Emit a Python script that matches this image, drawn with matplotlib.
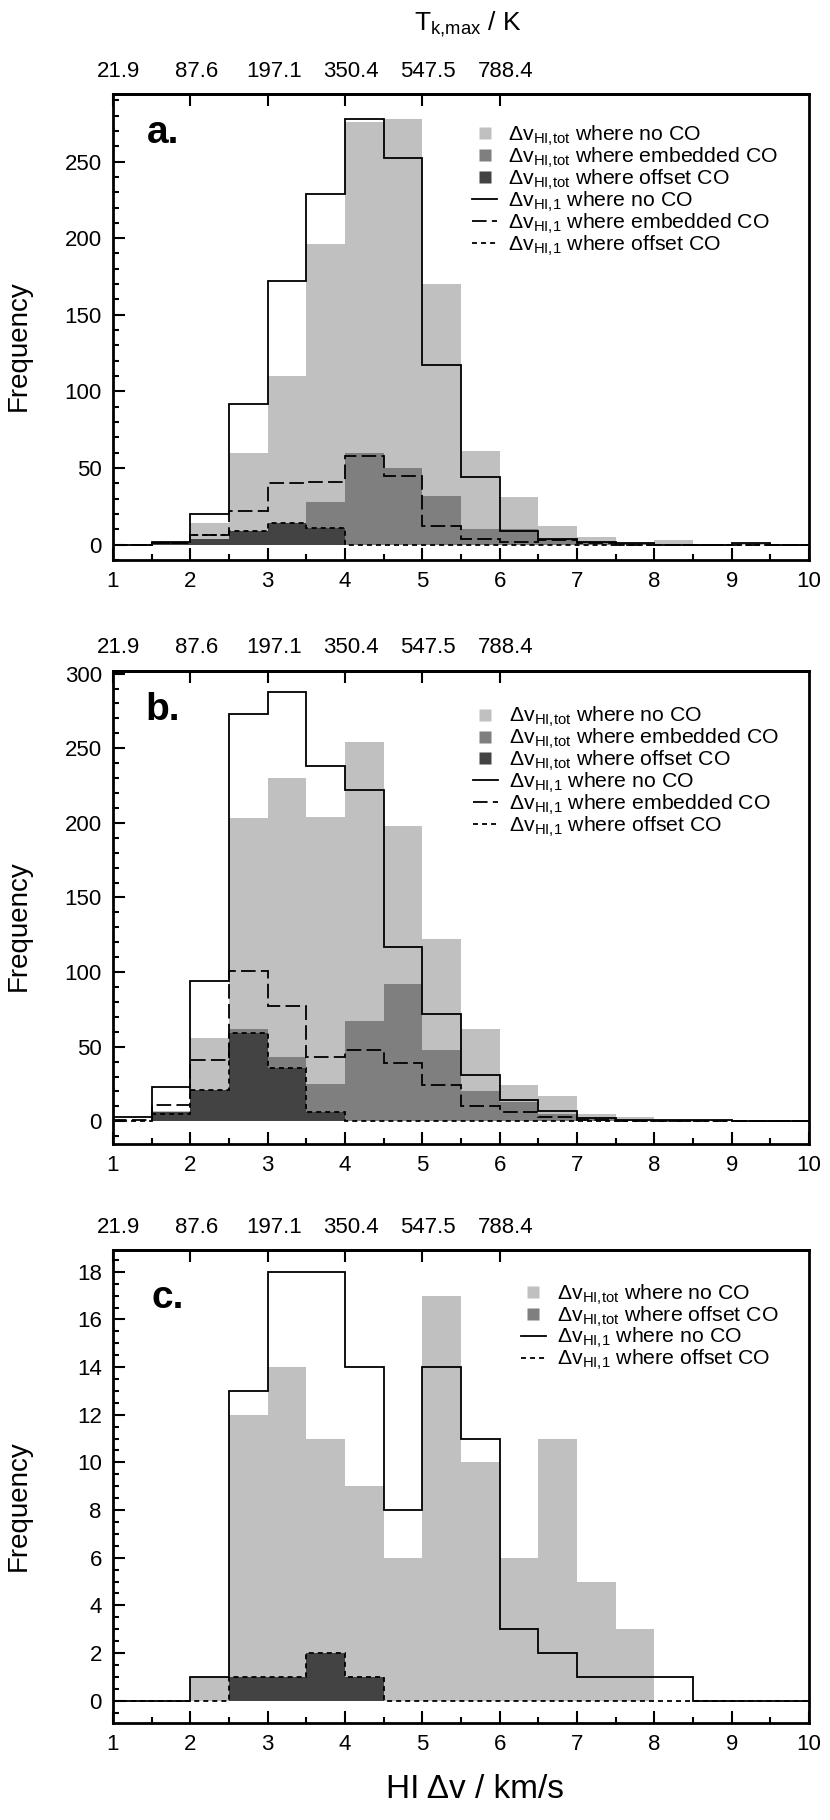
import numpy as np
import matplotlib
matplotlib.use("Agg")
import matplotlib.pyplot as plt
import matplotlib.transforms as mtransforms
from matplotlib.lines import Line2D
from matplotlib.ticker import MultipleLocator

plt.rcParams["font.family"] = ["Liberation Sans", "DejaVu Sans"]
plt.rcParams["mathtext.fontset"] = "custom"
plt.rcParams["mathtext.rm"] = "Liberation Sans"
plt.rcParams["mathtext.it"] = "Liberation Sans:italic"
plt.rcParams["mathtext.bf"] = "Liberation Sans:bold"
plt.rcParams["lines.scale_dashes"] = False

# HI line width bins (km/s)
bin_edges = [1.0, 1.5, 2.0, 2.5, 3.0, 3.5, 4.0, 4.5, 5.0, 5.5, 6.0, 6.5, 7.0, 7.5, 8.0, 8.5, 9.0, 9.5, 10.0]

# top axis: T_k,max for dv = 1..6 km/s
tk_ticks = [1, 2, 3, 4, 5, 6]
tk_labels = ["21.9", "87.6", "197.1", "350.4", "547.5", "788.4"]

# panel a
a_tot_noco = [0, 1, 14, 60, 110, 196, 276, 278, 170, 61, 31, 12, 5, 1, 3, 0, 1, 0]
a_tot_emb = [0, 0, 2, 6, 8, 28, 60, 50, 32, 10, 10, 4, 2, 1, 0, 0, 0, 0]
a_tot_off = [0, 1, 4, 9, 14, 11, 0, 0, 0, 0, 0, 0, 0, 0, 0, 0, 0, 0]
a_one_noco = [0, 2, 20, 92, 172, 229, 278, 252, 117, 44, 9, 4, 2, 1, 0, 0, 1, 0]
a_one_emb = [0, 1, 6, 22, 40, 41, 58, 45, 12, 4, 2, 3, 1, 0, 0, 0, 0, 0]
a_one_off = [0, 1, 6, 9, 14, 11, 0, 0, 0, 0, 0, 0, 0, 0, 0, 0, 0, 0]

# panel b
b_tot_noco = [0, 7, 56, 203, 230, 204, 254, 198, 122, 62, 24, 17, 5, 3, 1, 1, 0, 0]
b_tot_emb = [0, 3, 15, 62, 43, 25, 67, 92, 48, 20, 13, 5, 2, 1, 0, 0, 0, 0]
b_tot_off = [0, 6, 21, 59, 36, 6, 0, 0, 0, 0, 0, 0, 0, 0, 0, 0, 0, 0]
b_one_noco = [3, 23, 94, 273, 288, 238, 222, 117, 72, 31, 14, 7, 2, 1, 1, 1, 0, 0]
b_one_emb = [1, 11, 41, 101, 77, 43, 48, 39, 24, 10, 6, 3, 1, 0, 0, 0, 0, 0]
b_one_off = [0, 5, 21, 59, 36, 6, 0, 0, 0, 0, 0, 0, 0, 0, 0, 0, 0, 0]

# panel c
c_tot_noco = [0, 0, 1, 12, 14, 11, 9, 6, 17, 10, 6, 11, 5, 3, 0, 0, 0, 0]
c_tot_off = [0, 0, 0, 1, 1, 2, 1, 0, 0, 0, 0, 0, 0, 0, 0, 0, 0, 0]
c_one_noco = [0, 0, 1, 13, 18, 18, 14, 8, 14, 11, 3, 2, 1, 1, 1, 0, 0, 0]
c_one_off = [0, 0, 0, 1, 1, 2, 1, 0, 0, 0, 0, 0, 0, 0, 0, 0, 0, 0]

light = "#c0c0c0"
mid = "#7f7f7f"
dark = "#434343"
long_dash = (0, (10.5, 3.8))
short_dash = (0, (3.6, 2.9))
lw = 1.3

lab_tot = r"Δv$_{\mathrm{HI{,}tot}}$"
lab_one = r"Δv$_{\mathrm{HI{,}1}}$"


def square(color):
    return Line2D([], [], ls="none", marker="s", ms=8.6, mfc=color, mec="none")


def line(style):
    return Line2D([], [], color="k", lw=lw, ls=style)


def setup_axes(ax, ylim, major, minor, letter, letter_xy):
    ax.set_xlim(1, 10)
    ax.set_ylim(*ylim)
    ax.xaxis.set_major_locator(MultipleLocator(1))
    ax.xaxis.set_minor_locator(MultipleLocator(0.5))
    ax.yaxis.set_major_locator(MultipleLocator(major))
    ax.yaxis.set_minor_locator(MultipleLocator(minor))
    ax.tick_params(which="both", direction="in", top=False, right=False, width=1.5, labelsize=16)
    ax.tick_params(which="major", length=8.6)
    ax.tick_params(which="minor", length=4.3)
    ax.tick_params(axis="y", pad=8)
    ax.tick_params(axis="x", pad=8)
    for sp in ax.spines.values():
        sp.set_linewidth(2.0)
    ax.set_ylabel("Frequency", fontsize=20)
    ax.yaxis.set_label_coords(-0.117, 0.46)
    ax.text(letter_xy[0], letter_xy[1], letter, transform=ax.transAxes, fontsize=28,
            fontweight="bold", va="baseline", ha="left")

    top = ax.secondary_xaxis("top")
    top.set_xticks(tk_ticks)
    top.set_xticklabels(tk_labels)
    top.tick_params(direction="in", length=8.6, width=1.5, labelsize=16, pad=9)
    top.spines["top"].set_linewidth(2.0)
    shift = mtransforms.ScaledTranslation(6 / 100, 0, ax.figure.dpi_scale_trans)
    for t in top.get_xticklabels():
        t.set_transform(t.get_transform() + shift)
    return top


def add_legend(ax, handles, labels, anchor):
    ax.legend(handles, labels, loc="upper left", bbox_to_anchor=anchor, frameon=False,
              fontsize=15.3, borderpad=0, borderaxespad=0, handlelength=1.18,
              handletextpad=0.52, labelspacing=-0.108)


fig = plt.figure(figsize=(8.3, 18.2), dpi=100)
ax_a = fig.add_axes([0.1361, 0.6923, 0.8386, 0.2560])
ax_b = fig.add_axes([0.1361, 0.3716, 0.8386, 0.2599])
ax_c = fig.add_axes([0.1361, 0.0534, 0.8386, 0.2596])

# ---- panel a
ax_a.stairs(a_tot_noco, bin_edges, fill=True, color=light, lw=0)
ax_a.stairs(a_tot_emb, bin_edges, fill=True, color=mid, lw=0)
ax_a.stairs(a_tot_off, bin_edges, fill=True, color=dark, lw=0)
ax_a.stairs(a_one_off, bin_edges, color="k", lw=lw, ls=short_dash)
ax_a.stairs(a_one_emb, bin_edges, color="k", lw=lw, ls=long_dash)
ax_a.stairs(a_one_noco, bin_edges, color="k", lw=lw)
top_a = setup_axes(ax_a, (-10, 294), 50, 10, "a.", (0.049, 0.895))
top_a.set_xlabel(r"T$_{\mathrm{k{,}max}}$ / K", fontsize=19, labelpad=22)
top_a.xaxis.label.set_x(0.51)

handles = [square(light), square(mid), square(dark), line("-"), line(long_dash), line(short_dash)]
labels = [lab_tot + " where no CO", lab_tot + " where embedded CO", lab_tot + " where offset CO",
          lab_one + " where no CO", lab_one + " where embedded CO", lab_one + " where offset CO"]
add_legend(ax_a, handles, labels, (0.516, 0.936))

# ---- panel b
ax_b.stairs(b_tot_noco, bin_edges, fill=True, color=light, lw=0)
ax_b.stairs(b_tot_emb, bin_edges, fill=True, color=mid, lw=0)
ax_b.stairs(b_tot_off, bin_edges, fill=True, color=dark, lw=0)
ax_b.stairs(b_one_off, bin_edges, color="k", lw=lw, ls=short_dash)
ax_b.stairs(b_one_emb, bin_edges, color="k", lw=lw, ls=long_dash)
ax_b.stairs(b_one_noco, bin_edges, color="k", lw=lw)
setup_axes(ax_b, (-15, 302), 50, 10, "b.", (0.046, 0.896))
add_legend(ax_b, handles, labels, (0.517, 0.927))

# ---- panel c
ax_c.stairs(c_tot_noco, bin_edges, fill=True, color=light, lw=0)
ax_c.stairs(c_tot_off, bin_edges, fill=True, color=dark, lw=0)
ax_c.stairs(c_one_off, bin_edges, color="k", lw=lw, ls=short_dash)
ax_c.stairs(c_one_noco, bin_edges, color="k", lw=lw)
setup_axes(ax_c, (-0.93, 18.9), 2, 0.5, "c.", (0.056, 0.878))
handles_c = [square(light), square(mid), line("-"), line(short_dash)]
labels_c = [lab_tot + " where no CO", lab_tot + " where offset CO",
            lab_one + " where no CO", lab_one + " where offset CO"]
add_legend(ax_c, handles_c, labels_c, (0.586, 0.932))
ax_c.set_xlabel("HI Δv / km/s", fontsize=24)
ax_c.xaxis.set_label_coords(0.52, -0.108)

fig.savefig("out.png", dpi=100)
